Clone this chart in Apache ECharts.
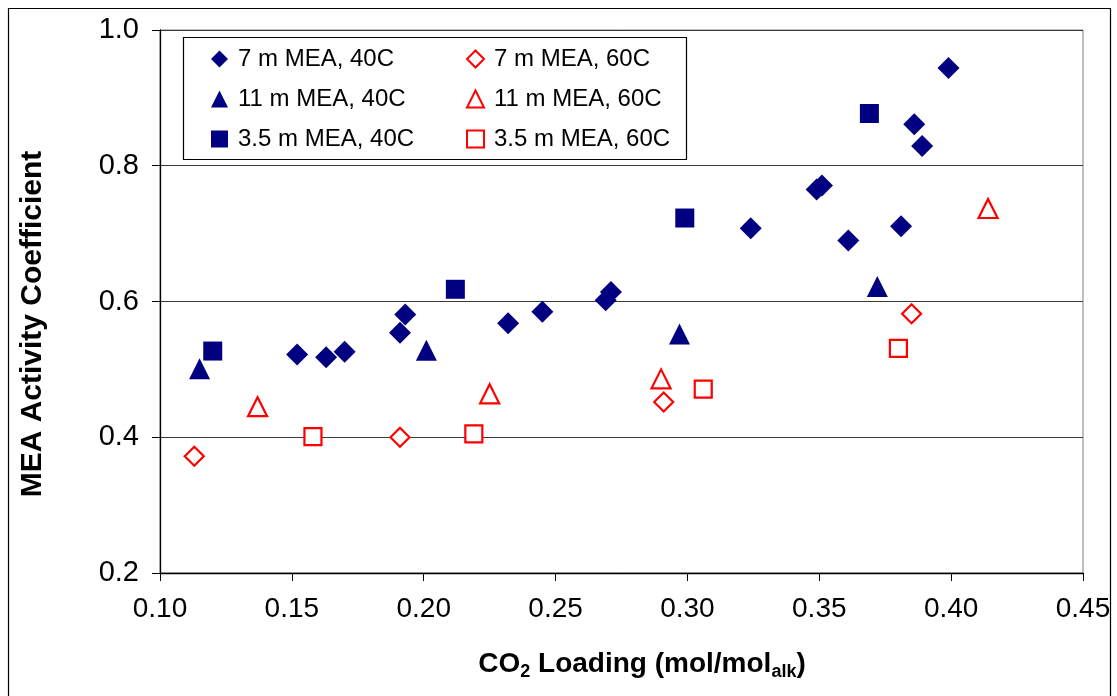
<!DOCTYPE html>
<html>
<head>
<meta charset="utf-8">
<title>MEA Activity Coefficient vs CO2 Loading</title>
<script src="https://cdn.jsdelivr.net/npm/echarts@6/dist/echarts.min.js"></script>
<style>
  html, body { margin: 0; padding: 0; background: #fff; }
  #chart { width: 1117px; height: 696px; }
</style>
</head>
<body>
<div id="chart"></div>
<script>
// CO2 loading (mol/mol alk) and MEA activity coefficient pairs
const mea7_40 = [
  [0.152, 0.522], [0.163, 0.518], [0.170, 0.526], [0.191, 0.554], [0.193, 0.581],
  [0.232, 0.568], [0.245, 0.585], [0.269, 0.602], [0.271, 0.614], [0.324, 0.708],
  [0.349, 0.765], [0.351, 0.771], [0.361, 0.690], [0.381, 0.711], [0.386, 0.861],
  [0.389, 0.829], [0.399, 0.944]
];
const mea11_40 = [[0.115, 0.501], [0.201, 0.528], [0.297, 0.552], [0.372, 0.622]];
const mea35_40 = [[0.120, 0.527], [0.212, 0.618], [0.299, 0.723], [0.369, 0.877]];
const mea7_60 = [[0.113, 0.372], [0.191, 0.400], [0.291, 0.452], [0.385, 0.582]];
const mea11_60 = [[0.137, 0.445], [0.225, 0.464], [0.290, 0.486], [0.414, 0.737]];
const mea35_60 = [[0.158, 0.401], [0.219, 0.405], [0.306, 0.471], [0.380, 0.531]];

const seriesNames40 = ['7 m MEA, 40C', '11 m MEA, 40C', '3.5 m MEA, 40C'];
const seriesNames60 = ['7 m MEA, 60C', '11 m MEA, 60C', '3.5 m MEA, 60C'];

const xTicks = { min: 0.10, max: 0.45, step: 0.05 };
const yTicks = { min: 0.2, max: 1.0, step: 0.2 };

const NAVY = '#000080';
const RED = '#ff0000';
const FONT = '"Liberation Sans", Arial, sans-serif';

function filled(name, data, symbol, size) {
  return {
    name, type: 'scatter', data, symbol, symbolSize: size,
    itemStyle: { color: NAVY, opacity: 1 },
    emphasis: { disabled: true }
  };
}
function hollow(name, data, symbol, size) {
  return {
    name, type: 'scatter', data, symbol, symbolSize: size,
    itemStyle: { color: '#ffffff', borderColor: RED, borderWidth: 2.2, opacity: 1 },
    emphasis: { disabled: true }
  };
}

const chart = echarts.init(document.getElementById('chart'), null, { renderer: 'canvas' });

const legendText = {
  fontFamily: FONT, fontSize: 24, color: '#000', lineHeight: 24,
  padding: [0, 0, 0, 5]
};
const legendCommon = {
  orient: 'vertical', top: 42, itemWidth: 17, itemHeight: 17, itemGap: 16,
  z: 6, symbolKeepAspect: true, selectedMode: false, textStyle: legendText
};

chart.setOption({
  animation: false,
  backgroundColor: '#ffffff',
  grid: {
    left: 160, top: 30, width: 923, height: 543,
    show: true, borderColor: '#808080', borderWidth: 1, backgroundColor: 'transparent'
  },
  xAxis: {
    type: 'value', min: xTicks.min, max: xTicks.max, interval: xTicks.step,
    axisLine: { show: true, onZero: false, lineStyle: { color: '#000', width: 1.3 } },
    axisTick: { show: true, inside: false, length: 8, lineStyle: { color: '#000' } },
    splitLine: { show: false },
    axisLabel: {
      margin: 22, fontFamily: FONT, fontSize: 28, color: '#000',
      formatter: v => v.toFixed(2)
    }
  },
  yAxis: {
    type: 'value', min: yTicks.min, max: yTicks.max, interval: yTicks.step,
    axisLine: { show: true, onZero: false, lineStyle: { color: '#000', width: 1.3 } },
    axisTick: { show: true, inside: false, length: 8, lineStyle: { color: '#000' } },
    splitLine: { show: true, lineStyle: { color: '#3a3a3a', width: 1.2 } },
    axisLabel: {
      margin: 21, fontFamily: FONT, fontSize: 29, color: '#000',
      formatter: v => v.toFixed(1)
    }
  },
  legend: [
    Object.assign({ data: seriesNames40, left: 206 }, legendCommon),
    Object.assign({ data: seriesNames60, left: 461 }, legendCommon)
  ],
  graphic: [
    {
      // outer chart frame
      type: 'rect', z: 1, silent: true,
      shape: { x: 8.5, y: 8.5, width: 1102, height: 695 },
      style: { fill: 'none', stroke: '#000', lineWidth: 1.2 }
    },
    {
      // legend box
      type: 'rect', z: 5, silent: true,
      shape: { x: 183.5, y: 37.5, width: 503, height: 122 },
      style: { fill: '#fff', stroke: '#000', lineWidth: 1.2 }
    },
    {
      type: 'text', z: 5, silent: true,
      x: 33, y: 324, rotation: Math.PI / 2,
      style: {
        text: 'MEA Activity Coefficient',
        fontFamily: FONT, fontSize: 30, fontWeight: 'bold', fill: '#000',
        align: 'center', verticalAlign: 'middle'
      }
    },
    {
      type: 'text', z: 5, silent: true,
      x: 642, y: 664,
      style: {
        text: '{a|CO}{s|2}{a| Loading (mol/mol}{s|alk}{a|)}',
        align: 'center', verticalAlign: 'middle',
        rich: {
          a: { fontFamily: FONT, fontSize: 28, fontWeight: 'bold', fill: '#000', lineHeight: 34 },
          s: { fontFamily: FONT, fontSize: 18, fontWeight: 'bold', fill: '#000', lineHeight: 16, verticalAlign: 'bottom' }
        }
      }
    }
  ],
  series: [
    filled(seriesNames40[0], mea7_40, 'diamond', 22),
    filled(seriesNames40[1], mea11_40, 'triangle', 21),
    filled(seriesNames40[2], mea35_40, 'rect', 19),
    hollow(seriesNames60[0], mea7_60, 'diamond', 19),
    hollow(seriesNames60[1], mea11_60, 'triangle', 19),
    hollow(seriesNames60[2], mea35_60, 'rect', 17)
  ]
});
</script>
</body>
</html>
